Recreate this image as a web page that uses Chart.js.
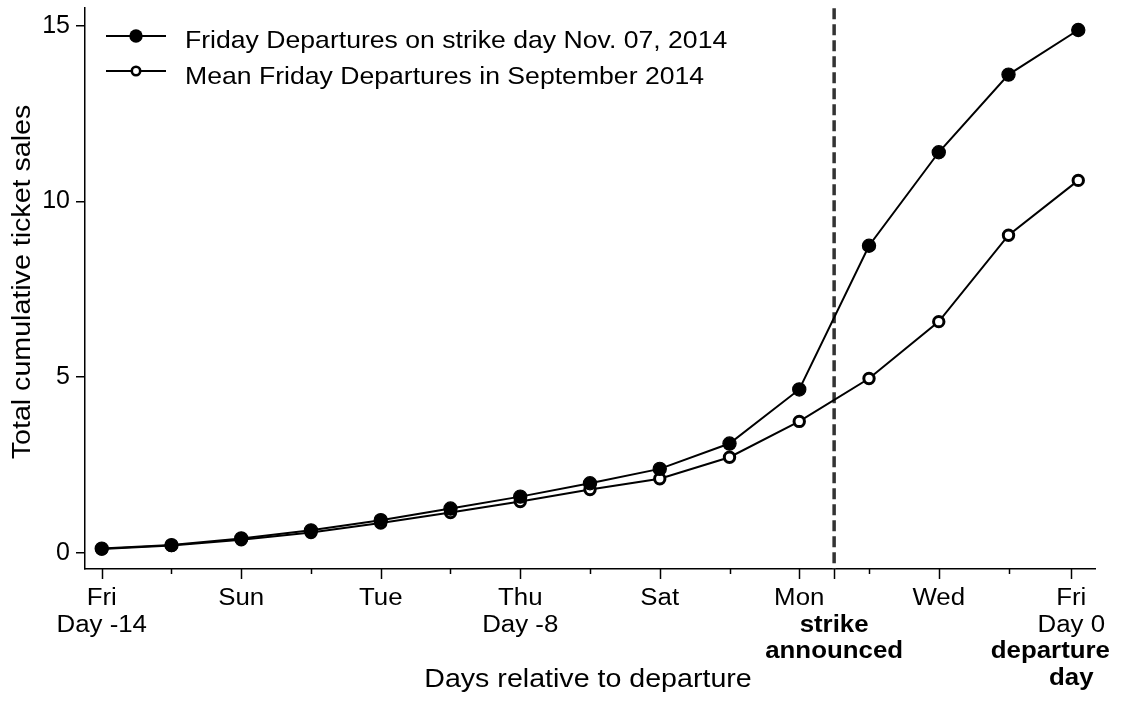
<!DOCTYPE html>
<html>
<head>
<meta charset="utf-8">
<script src="https://cdn.jsdelivr.net/npm/chart.js@4.4.0/dist/chart.umd.min.js"></script>
<style>
  html, body { margin: 0; padding: 0; background: #fff; }
  canvas { display: block; }
</style>
</head>
<body>
<canvas id="chart" width="1121" height="704"></canvas>
<script>
// days relative to departure (Fri Day -14 ... Fri Day 0)
const days = [-14, -13, -12, -11, -10, -9, -8, -7, -6, -5, -4, -3, -2, -1, 0];
const strikeSales = [0.12, 0.22, 0.41, 0.64, 0.93, 1.26, 1.60, 1.98, 2.39, 3.11, 4.65, 8.74, 11.40, 13.61, 14.88];
const septSales = [0.11, 0.21, 0.37, 0.58, 0.85, 1.15, 1.46, 1.80, 2.11, 2.72, 3.74, 4.96, 6.58, 9.04, 10.60];

const seriesNames = ['Friday Departures on strike day Nov. 07, 2014', 'Mean Friday Departures in September 2014'];

const yTicks = [0, 5, 10, 15];
const majorTickDays = [-14, -12, -10, -8, -6, -4, -3.5, -2, -0.1];
const minorTickDays = [-13, -11, -9, -7, -5, -3, -1];
const tickLabelDays = [-14, -12, -10, -8, -6, -4, -3.5, -2, -0.1];
// each entry: lines under the tick, [text, bold]
const tickLabelLines = [
    [['Fri', false], ['Day -14', false]],
    [['Sun', false]],
    [['Tue', false]],
    [['Thu', false], ['Day -8', false]],
    [['Sat', false]],
    [['Mon', false]],
    [['', false], ['strike', true], ['announced', true]],
    [['Wed', false]],
    [['Fri', false], ['Day 0', false], ['departure', true], ['day', true]]
];
const strikeDay = -3.5;

const FONT = '"Liberation Sans", Arial, sans-serif';
const SX = 1.1; // text in the original is a bit wider than Arial

function drawText(ctx, text, x, y, size, bold, align, rotate) {
    ctx.save();
    ctx.translate(x, y);
    if (rotate) ctx.rotate(-Math.PI / 2);
    ctx.scale(SX, 1);
    ctx.font = (bold ? 'bold ' : '') + size + 'px ' + FONT;
    ctx.fillStyle = '#000';
    ctx.textAlign = align || 'left';
    ctx.textBaseline = 'alphabetic';
    ctx.fillText(text, 0, 0);
    ctx.restore();
}

function textWidth(ctx, text, size, bold) {
    ctx.save();
    ctx.font = (bold ? 'bold ' : '') + size + 'px ' + FONT;
    const w = ctx.measureText(text).width * SX;
    ctx.restore();
    return w;
}

const decorPlugin = {
    id: 'decor',
    beforeDatasetsDraw(chart) {
        const ctx = chart.ctx;
        const xs = chart.scales.x;
        const area = chart.chartArea;
        const px = xs.getPixelForValue(strikeDay);
        ctx.save();
        ctx.strokeStyle = '#333';
        ctx.lineWidth = 3.5;
        ctx.setLineDash([11, 5]);
        ctx.beginPath();
        ctx.moveTo(px, area.top);
        ctx.lineTo(px, area.bottom);
        ctx.stroke();
        ctx.restore();
    },
    afterDraw(chart) {
        const ctx = chart.ctx;
        const xs = chart.scales.x;
        const area = chart.chartArea;

        // x tick marks
        ctx.save();
        ctx.strokeStyle = '#000';
        ctx.lineWidth = 1.5;
        majorTickDays.forEach(d => {
            const px = Math.round(xs.getPixelForValue(d)) + 0.5;
            ctx.beginPath();
            ctx.moveTo(px, area.bottom);
            ctx.lineTo(px, area.bottom + 10);
            ctx.stroke();
        });
        minorTickDays.forEach(d => {
            const px = Math.round(xs.getPixelForValue(d)) + 0.5;
            ctx.beginPath();
            ctx.moveTo(px, area.bottom);
            ctx.lineTo(px, area.bottom + 5);
            ctx.stroke();
        });
        ctx.restore();

        // x tick labels
        const lineOffsets = [36, 63, 89, 116];
        const rightLimit = chart.width - 11;
        tickLabelDays.forEach((d, i) => {
            const px = xs.getPixelForValue(d);
            tickLabelLines[i].forEach((ln, j) => {
                if (!ln[0]) return;
                const w = textWidth(ctx, ln[0], 23.5, ln[1]);
                let cx = px;
                if (cx + w / 2 > rightLimit) cx = rightLimit - w / 2;
                drawText(ctx, ln[0], cx, area.bottom + lineOffsets[j], 23.5, ln[1], 'center');
            });
        });

        // axis titles
        drawText(ctx, 'Days relative to departure', 588, 687, 26, false, 'center');
        drawText(ctx, 'Total cumulative ticket sales', 30, 282, 26, false, 'center', true);

        // legend
        const rows = [
            { y: 36, base: 48, filled: true },
            { y: 71, base: 84, filled: false }
        ];
        rows.forEach((r, i) => {
            ctx.save();
            ctx.strokeStyle = '#000';
            ctx.lineWidth = 2;
            ctx.beginPath();
            ctx.moveTo(106, r.y);
            ctx.lineTo(166, r.y);
            ctx.stroke();
            ctx.beginPath();
            if (r.filled) {
                ctx.arc(136, r.y, 6.7, 0, Math.PI * 2);
                ctx.fillStyle = '#000';
                ctx.fill();
            } else {
                ctx.arc(136, r.y, 4.2, 0, Math.PI * 2);
                ctx.fillStyle = '#fff';
                ctx.fill();
                ctx.lineWidth = 2.6;
                ctx.stroke();
            }
            ctx.restore();
            drawText(ctx, seriesNames[i], 185, r.base, 24.2, false, 'left');
        });
    }
};

new Chart(document.getElementById('chart'), {
    type: 'line',
    data: {
        datasets: [
            {
                label: seriesNames[0],
                data: days.map((d, i) => ({ x: d, y: strikeSales[i] })),
                borderColor: '#000',
                borderWidth: 2,
                pointRadius: 6.6,
                pointBorderWidth: 1.2,
                pointBackgroundColor: '#000',
                pointBorderColor: '#000',
                tension: 0
            },
            {
                label: seriesNames[1],
                data: days.map((d, i) => ({ x: d, y: septSales[i] })),
                borderColor: '#000',
                borderWidth: 2,
                pointRadius: 5.2,
                pointBorderWidth: 3,
                pointBackgroundColor: '#fff',
                pointBorderColor: '#000',
                tension: 0
            }
        ]
    },
    options: {
        responsive: false,
        animation: false,
        clip: false,
        layout: {
            padding: { left: 0, right: 26, top: 3, bottom: 0 }
        },
        plugins: {
            legend: { display: false },
            tooltip: { enabled: false }
        },
        scales: {
            x: {
                type: 'linear',
                min: -14.24,
                max: 0.24,
                ticks: { display: false },
                grid: { display: false },
                border: { display: true, color: '#000', width: 1.5 },
                afterFit: s => { s.height = 135; s.paddingLeft = 0; s.paddingRight = 0; }
            },
            y: {
                min: -0.46,
                max: 15.5,
                afterBuildTicks: s => { s.ticks = yTicks.map(v => ({ value: v })); },
                ticks: {
                    color: '#000',
                    padding: 6,
                    font: { family: FONT, size: 25 }
                },
                grid: {
                    drawOnChartArea: false,
                    drawTicks: true,
                    tickLength: 9,
                    color: '#000',
                    lineWidth: 1.5
                },
                border: { display: true, color: '#000', width: 1.5 },
                afterFit: s => { s.width = 85; s.paddingTop = 0; s.paddingBottom = 0; }
            }
        }
    },
    plugins: [decorPlugin]
});
</script>
</body>
</html>
